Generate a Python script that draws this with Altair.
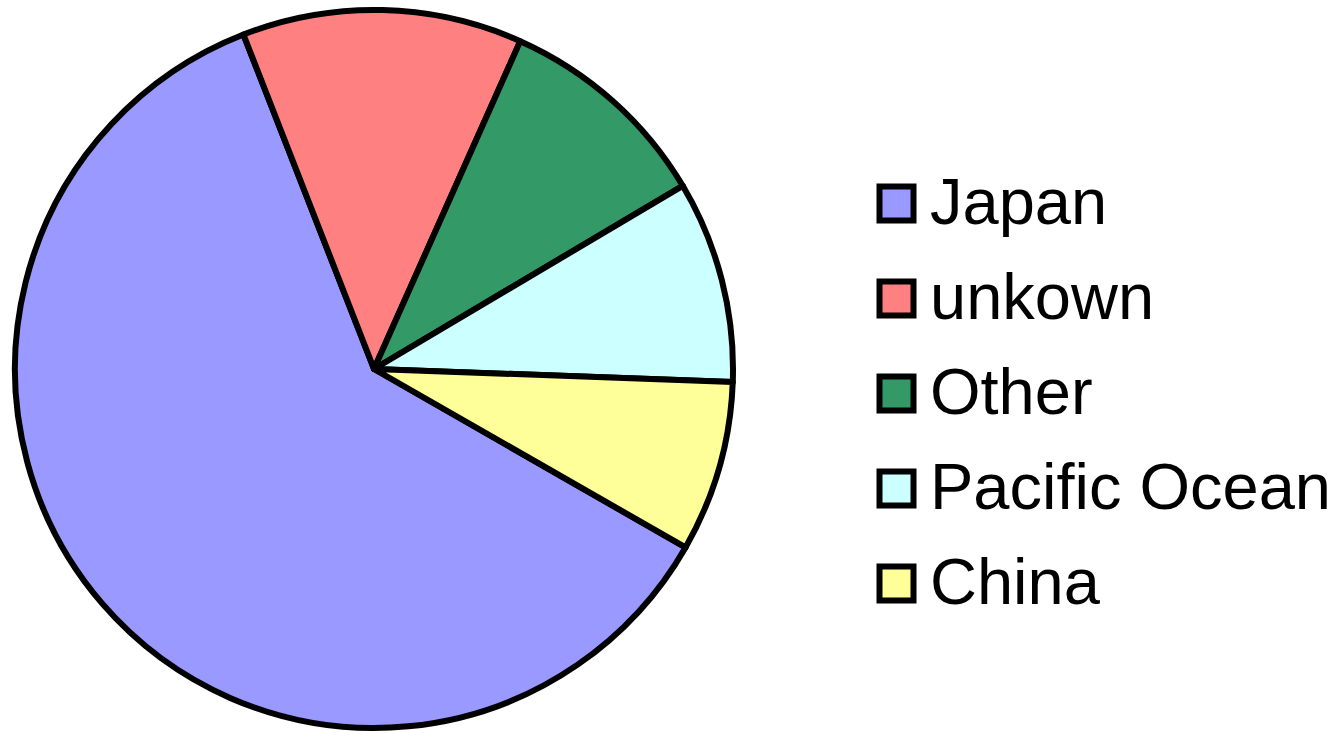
import altair as alt
import pandas as pd
import math

countries = ["Japan", "unkown", "Other", "Pacific Ocean", "China"]
shares = [60.8, 12.6, 9.8, 9.1, 7.7]
colors = ["#9999FF", "#FF8080", "#339966", "#CCFFFF", "#FFFF99"]
order = [1, 2, 3, 4, 5]

df = pd.DataFrame({"country": countries, "share": shares, "ord": order})

start = math.radians(119.8)

chart = alt.Chart(df).mark_arc(
    stroke="black", strokeWidth=6, outerRadius=359, strokeJoin="round"
).encode(
    theta=alt.Theta("share:Q", stack=True,
                    scale=alt.Scale(range=[start, start + 2 * math.pi])),
    order=alt.Order("ord:Q"),
    color=alt.Color(
        "country:N",
        scale=alt.Scale(domain=countries, range=colors),
        sort=countries,
        legend=alt.Legend(
            title=None, orient="none", legendX=864, legendY=171,
            symbolType="square", symbolSize=1156,
            symbolStrokeColor="black", symbolStrokeWidth=6,
            symbolOpacity=1,
            labelFont="Liberation Sans", labelFontSize=65,
            labelColor="black", labelOffset=1, rowPadding=29,
            labelLimit=500,
        ),
    ),
    x=alt.value(374),
    y=alt.value(369),
).properties(
    width=1344, height=734, padding=0,
    autosize=alt.AutoSizeParams(type="none"),
).configure_view(stroke=None)

chart.save("out.html", embed_options={"renderer": "svg", "actions": False})
